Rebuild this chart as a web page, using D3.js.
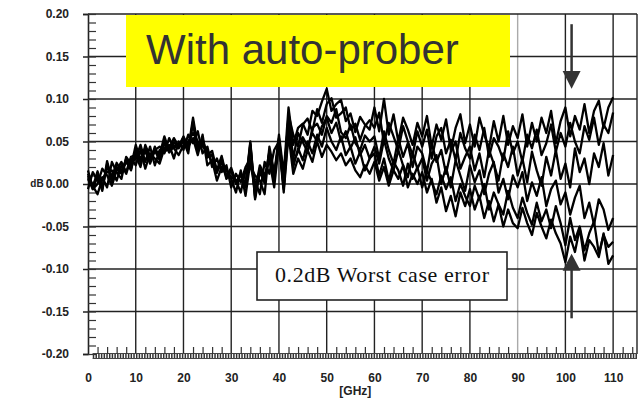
<!DOCTYPE html>
<html>
<head>
<meta charset="utf-8">
<script src="https://cdn.jsdelivr.net/npm/d3@7"></script>
<style>
  body { margin: 0; background: #fff; }
  svg { display: block; font-family: "Liberation Sans", Arial, sans-serif; }
</style>
</head>
<body>
<svg id="chart" width="639" height="398"></svg>
<script>
// frequency axis, 1 GHz steps from 0 to 110
var freqs = d3.range(0, 111);

// six measured traces, dB
var s1 = [
  0.008,-0.004,0.015,-0.006,0.024,0.008,0.025,0.015,0.028,0.020,
  0.046,0.028,0.043,0.031,0.041,0.034,0.056,0.039,0.049,0.044,
  0.055,0.041,0.078,0.044,0.053,0.034,0.039,0.016,0.033,0.009,
  0.019,0.002,0.013,-0.001,0.050,-0.014,0.019,0.004,0.039,0.010,
  0.058,0.012,0.090,0.046,0.066,0.071,0.058,0.086,0.080,0.097,
  0.112,0.086,0.094,0.099,0.074,0.083,0.061,0.079,0.070,0.064,
  0.090,0.062,0.100,0.058,0.082,0.050,0.078,0.064,0.046,0.072,
  0.056,0.080,0.044,0.070,0.052,0.076,0.040,0.066,0.082,0.048,
  0.070,0.044,0.078,0.058,0.042,0.074,0.050,0.080,0.046,0.068,
  0.054,0.082,0.044,0.072,0.050,0.078,0.060,0.086,0.048,0.074,
  0.090,0.056,0.080,0.064,0.094,0.060,0.086,0.098,0.066,0.090,
  0.102
];
var s2 = [
  0.010,-0.002,-0.012,0.006,0.014,0.016,0.004,0.022,0.012,0.030,
  0.022,0.040,0.018,0.036,0.030,0.024,0.042,0.046,0.030,0.050,
  0.040,0.058,0.048,0.062,0.036,0.044,0.020,0.030,0.014,0.022,
  -0.004,0.012,0.002,0.020,0.030,0.004,-0.012,0.026,0.012,0.040,
  0.050,-0.004,0.082,0.058,0.044,0.070,0.077,0.062,0.088,0.072,
  0.094,0.101,0.078,0.083,0.090,0.064,0.071,0.052,0.068,0.075,
  0.066,0.084,0.048,0.072,0.056,0.040,0.068,0.050,0.034,0.062,
  0.044,0.064,0.030,0.056,0.066,0.036,0.052,0.028,0.060,0.042,
  0.030,0.058,0.040,0.066,0.032,0.054,0.044,0.028,0.062,0.036,
  0.050,0.026,0.058,0.042,0.064,0.034,0.048,0.070,0.038,0.060,
  0.044,0.072,0.050,0.036,0.068,0.052,0.078,0.046,0.070,0.060,
  0.084
];
var s3 = [
  0.012,-0.002,0.010,-0.008,0.027,0.004,0.018,0.012,0.030,0.016,
  0.040,0.030,0.038,0.026,0.044,0.028,0.050,0.040,0.045,0.046,
  0.050,0.042,0.072,0.038,0.048,0.032,0.034,0.014,0.028,0.006,
  0.016,0.000,0.012,-0.004,0.046,-0.018,0.014,0.002,0.036,0.004,
  0.054,0.006,0.078,0.030,0.060,0.049,0.038,0.066,0.071,0.058,
  0.080,0.072,0.088,0.061,0.054,0.070,0.048,0.040,0.057,0.050,
  0.056,0.030,0.062,0.040,0.024,0.054,0.032,0.048,0.020,0.044,
  0.036,0.014,0.048,0.026,0.040,0.012,0.038,0.050,0.018,0.032,
  0.044,0.016,0.036,0.008,0.040,0.024,0.004,0.036,0.020,0.044,
  0.010,0.030,0.002,0.038,0.016,-0.002,0.032,0.010,0.040,0.006,
  0.024,-0.004,0.042,0.014,0.030,0.000,0.036,0.020,0.048,0.010,
  0.034
];
var s4 = [
  -0.006,0.014,0.004,0.008,-0.004,0.026,0.014,0.006,0.032,0.024,
  0.030,0.046,0.026,0.044,0.022,0.040,0.036,0.054,0.042,0.034,
  0.046,0.050,0.060,0.050,0.044,0.040,0.024,0.018,0.024,0.016,
  0.008,0.004,-0.010,0.016,0.020,0.010,0.004,-0.012,0.044,0.014,
  0.046,0.002,0.072,0.026,0.038,0.055,0.044,0.060,0.050,0.068,
  0.078,0.060,0.072,0.050,0.062,0.042,0.055,0.034,0.046,0.030,
  0.044,0.024,0.052,0.030,0.016,0.040,0.022,0.008,0.036,0.018,
  0.030,0.004,0.024,0.034,0.000,0.020,-0.004,0.028,0.010,-0.008,
  0.022,0.002,0.016,-0.012,0.012,0.026,-0.010,0.006,-0.018,0.010,
  -0.004,0.014,-0.020,0.002,-0.014,0.008,-0.026,-0.006,0.004,-0.024,
  -0.010,-0.036,-0.016,-0.002,-0.040,-0.022,-0.048,-0.018,-0.030,-0.054,
  -0.040
];
var s5 = [
  0.006,-0.006,0.009,-0.004,0.022,0.002,0.020,0.014,0.026,0.017,
  0.038,0.026,0.042,0.024,0.039,0.029,0.048,0.037,0.044,0.042,
  0.051,0.036,0.074,0.039,0.051,0.031,0.035,0.013,0.031,0.007,
  0.017,0.001,0.011,-0.003,0.048,-0.016,0.017,0.001,0.037,0.007,
  0.052,-0.006,0.064,0.020,0.042,0.028,0.050,0.036,0.058,0.044,
  0.066,0.050,0.040,0.056,0.034,0.044,0.024,0.038,0.016,0.030,
  0.036,0.010,0.030,0.004,0.026,0.016,-0.002,0.024,0.006,0.020,
  -0.004,0.016,0.002,-0.012,0.010,-0.006,0.008,-0.020,0.000,-0.014,
  -0.026,-0.002,-0.018,0.000,-0.030,-0.010,-0.024,-0.036,-0.008,-0.028,
  -0.040,-0.016,-0.034,-0.048,-0.022,-0.044,-0.030,-0.052,-0.026,-0.046,
  -0.072,-0.040,-0.066,-0.050,-0.078,-0.058,-0.044,-0.082,-0.060,-0.074,
  -0.068
];
var s6 = [
  0.016,-0.006,0.000,0.018,0.010,-0.002,0.016,0.026,0.014,0.032,
  0.034,0.020,0.046,0.032,0.040,0.044,0.038,0.042,0.054,0.044,
  0.056,0.044,0.054,0.034,0.058,0.022,0.028,0.004,0.020,0.010,
  0.006,-0.010,0.016,-0.014,0.026,-0.008,0.022,0.010,0.028,-0.004,
  0.048,-0.010,0.058,0.012,0.030,0.018,0.040,0.026,0.050,0.032,
  0.046,0.038,0.028,0.036,0.022,0.030,0.016,0.008,0.022,0.012,
  0.026,0.004,0.020,-0.002,0.016,0.006,0.022,-0.004,0.012,0.000,
  0.014,-0.010,0.006,-0.022,-0.004,-0.032,-0.014,-0.038,-0.010,-0.026,
  -0.006,-0.030,-0.014,-0.040,-0.020,-0.044,-0.024,-0.050,-0.030,-0.046,
  -0.052,-0.028,-0.046,-0.060,-0.034,-0.050,-0.064,-0.042,-0.058,-0.070,
  -0.092,-0.062,-0.080,-0.052,-0.090,-0.066,-0.074,-0.086,-0.058,-0.094,
  -0.084
];
var traces = [s1, s2, s3, s4, s5, s6];

var xTicks = [0, 10, 20, 30, 40, 50, 60, 70, 80, 90, 100, 110];
var yTicks = [-0.20, -0.15, -0.10, -0.05, 0.00, 0.05, 0.10, 0.15, 0.20];
var yTickLabels = ["-0.20", "-0.15", "-0.10", "-0.05", "0.00", "0.05", "0.10", "0.15", "0.20"];
var title = "With auto-prober";
var note = "0.2dB Worst case error";
var arrowFreq = 101.3;

var svg = d3.select("#chart");

var x = d3.scaleLinear().domain([0, 115]).range([88, 637]);
var y = d3.scaleLinear().domain([-0.2, 0.2]).range([354, 14]);

// vertical grid lines (90 GHz one is lighter)
svg.append("g")
    .selectAll("line")
    .data(xTicks.filter(d => d > 0).concat([115]))
    .enter()
    .append("line")
    .attr("x1", d => x(d)).attr("x2", d => x(d))
    .attr("y1", y(0.2)).attr("y2", y(-0.2))
    .attr("stroke", d => d === 90 ? "#aaa" : "#222")
    .attr("stroke-width", 1.4);

// horizontal grid lines
svg.append("g")
    .selectAll("line")
    .data(yTicks.filter(d => d > -0.2))
    .enter()
    .append("line")
    .attr("x1", x(0)).attr("x2", x(115))
    .attr("y1", d => y(d)).attr("y2", d => y(d))
    .attr("stroke", "#222")
    .attr("stroke-width", 1.5);

// left axis with labels
var yAxis = svg.append("g")
    .attr("transform", "translate(" + x(0) + ",0)")
    .call(d3.axisLeft(y).tickValues(yTicks).tickSize(5).tickPadding(14)
        .tickFormat((d, i) => yTickLabels[i]));
yAxis.select(".domain").attr("stroke", "#222").attr("stroke-width", 1.6);
yAxis.selectAll(".tick line").attr("stroke", "#222").attr("stroke-width", 1.5);

// inside minor ticks on the left axis
var yMinor = d3.range(-20, 21).map(d => d / 100);
var yMinorAxis = svg.append("g")
    .attr("transform", "translate(" + x(0) + ",0)")
    .call(d3.axisRight(y).tickValues(yMinor).tickSize(8).tickFormat(""));
yMinorAxis.select(".domain").remove();
yMinorAxis.selectAll(".tick line").attr("stroke", "#333").attr("stroke-width", 1.2);

// hatched bottom band
svg.append("line")
    .attr("x1", x(1)).attr("x2", x(115))
    .attr("y1", 356).attr("y2", 356)
    .attr("stroke", "#333").attr("stroke-width", 6)
    .attr("stroke-dasharray", "1.5,1.2");
svg.append("line")
    .attr("x1", x(1)).attr("x2", x(115))
    .attr("y1", 353.5).attr("y2", 353.5)
    .attr("stroke", "#444").attr("stroke-width", 1);
svg.append("line")
    .attr("x1", x(1)).attr("x2", x(115))
    .attr("y1", 358.5).attr("y2", 358.5)
    .attr("stroke", "#444").attr("stroke-width", 1);

// bottom minor ticks
var xMinor = d3.range(2, 115, 2).filter(d => d % 10 !== 0);
var xMinorAxis = svg.append("g")
    .attr("transform", "translate(0," + y(-0.2) + ")")
    .call(d3.axisTop(x).tickValues(xMinor).tickSize(7).tickFormat(""));
xMinorAxis.select(".domain").remove();
xMinorAxis.selectAll(".tick line").attr("stroke", "#333").attr("stroke-width", 1.2);

// bottom labels
var xAxis = svg.append("g")
    .attr("transform", "translate(0," + y(-0.2) + ")")
    .call(d3.axisBottom(x).tickValues(xTicks).tickSize(0).tickPadding(19).tickFormat(d => d));
xAxis.select(".domain").remove();

svg.selectAll(".tick text")
    .attr("font-family", "'Liberation Sans', Arial, sans-serif")
    .attr("font-size", 12)
    .attr("font-weight", "bold")
    .attr("fill", "#222");

svg.append("text")
    .attr("x", x(56)).attr("y", 395)
    .attr("text-anchor", "middle")
    .attr("font-size", 12).attr("font-weight", "bold").attr("fill", "#222")
    .text("[GHz]");

svg.append("text")
    .attr("x", 37).attr("y", y(0) + 3)
    .attr("text-anchor", "middle")
    .attr("font-size", 10).attr("font-weight", "bold").attr("fill", "#222")
    .text("dB");

// traces
var line = d3.line()
    .x((d, i) => x(freqs[i]))
    .y(d => y(d));

svg.append("g")
    .selectAll("path")
    .data(traces)
    .enter()
    .append("path")
    .attr("d", line)
    .attr("fill", "none")
    .attr("stroke", "#000")
    .attr("stroke-width", 2.3)
    .attr("stroke-linejoin", "round");

// arrows at the worst case frequency
var ax = x(arrowFreq);
svg.append("line")
    .attr("x1", ax).attr("x2", ax)
    .attr("y1", y(0.188)).attr("y2", y(0.125))
    .attr("stroke", "#333").attr("stroke-width", 2.5);
svg.append("path")
    .attr("d", "M" + (ax - 9) + "," + y(0.133) + "L" + (ax + 9) + "," + y(0.133) + "L" + ax + "," + y(0.112) + "Z")
    .attr("fill", "#333");
svg.append("line")
    .attr("x1", ax).attr("x2", ax)
    .attr("y1", y(-0.095)).attr("y2", y(-0.158))
    .attr("stroke", "#333").attr("stroke-width", 2.5);
svg.append("path")
    .attr("d", "M" + (ax - 9) + "," + y(-0.102) + "L" + (ax + 9) + "," + y(-0.102) + "L" + ax + "," + y(-0.082) + "Z")
    .attr("fill", "#333");

// note box
svg.append("rect")
    .attr("x", 257).attr("y", 252)
    .attr("width", 250).attr("height", 48)
    .attr("fill", "#fff")
    .attr("stroke", "#222").attr("stroke-width", 1.6);
svg.append("text")
    .attr("x", 382).attr("y", 282)
    .attr("text-anchor", "middle")
    .attr("font-family", "'Liberation Serif', 'Times New Roman', serif")
    .attr("font-size", 22)
    .attr("textLength", 214)
    .attr("fill", "#111")
    .text(note);

// yellow title box
svg.append("rect")
    .attr("x", 126).attr("y", 15)
    .attr("width", 384).attr("height", 72)
    .attr("fill", "#ffff00");
svg.append("text")
    .attr("x", 146).attr("y", 64)
    .attr("font-size", 42)
    .attr("fill", "#333")
    .text(title);
</script>
</body>
</html>
